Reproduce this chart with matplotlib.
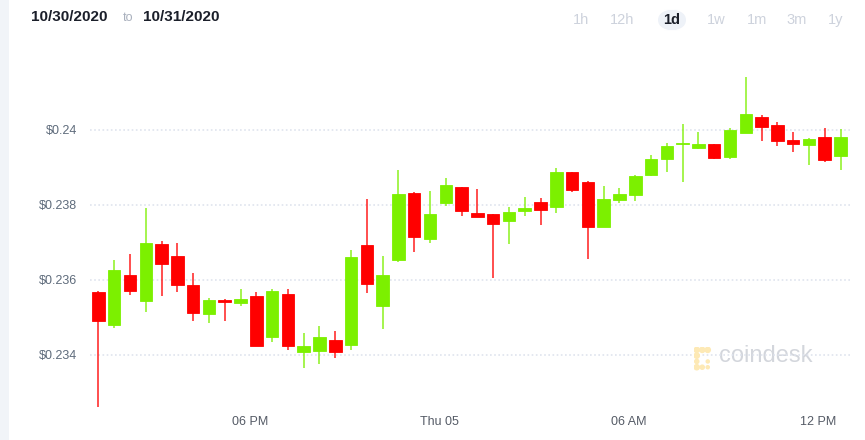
import matplotlib.pyplot as plt
import matplotlib.dates as mdates
from matplotlib.patches import FancyBboxPatch
import pandas as pd

plt.rcParams['font.family'] = ['Liberation Sans', 'DejaVu Sans']

# 30 min candles, 11/04 afternoon -> 11/05 noon
times = pd.date_range('2020-11-04 13:12', periods=48, freq='30min')
opens = [0.235688, 0.234808, 0.236125, 0.235448, 0.236960, 0.236648, 0.235875, 0.235085,
         0.235475, 0.235395, 0.235565, 0.234480, 0.235635, 0.234080, 0.234099, 0.234392,
         0.234267, 0.236933, 0.235315, 0.236541, 0.238320, 0.237085, 0.238045, 0.238472,
         0.237779, 0.237760, 0.237581, 0.237848, 0.238072, 0.237939, 0.238880, 0.238613,
         0.237421, 0.238133, 0.238275, 0.238808, 0.239235, 0.239619, 0.239520, 0.239619,
         0.239280, 0.239928, 0.240339, 0.240125, 0.239741, 0.239608, 0.239805, 0.239307]
closes = [0.234899, 0.236275, 0.235715, 0.236979, 0.236427, 0.235875, 0.235120, 0.235475,
          0.235413, 0.235493, 0.234248, 0.235707, 0.234232, 0.234240, 0.234480, 0.234072,
          0.236613, 0.235901, 0.236133, 0.238293, 0.237139, 0.237760, 0.238541, 0.237827,
          0.237688, 0.237493, 0.237805, 0.237928, 0.237859, 0.238880, 0.238400, 0.237421,
          0.238160, 0.238293, 0.238765, 0.239227, 0.239573, 0.239653, 0.239635, 0.239261,
          0.240000, 0.240427, 0.240088, 0.239715, 0.239627, 0.239752, 0.239200, 0.239813]
highs = [0.235715, 0.236533, 0.236693, 0.237912, 0.237040, 0.236987, 0.236179, 0.235512,
         0.235493, 0.235760, 0.235672, 0.235752, 0.235760, 0.234579, 0.234773, 0.234640,
         0.236800, 0.238152, 0.236632, 0.238933, 0.238355, 0.238365, 0.238720, 0.238488,
         0.238427, 0.237760, 0.237939, 0.238213, 0.238179, 0.238987, 0.238880, 0.238640,
         0.238499, 0.238453, 0.238800, 0.239325, 0.239653, 0.240160, 0.239955, 0.239627,
         0.240053, 0.241421, 0.240400, 0.240205, 0.239947, 0.239787, 0.240053, 0.240019]
lows = [0.232621, 0.234720, 0.235592, 0.235155, 0.235581, 0.235688, 0.234899, 0.234845,
        0.234915, 0.235315, 0.234232, 0.234355, 0.234125, 0.233661, 0.233768, 0.233928,
        0.234133, 0.235661, 0.234693, 0.236488, 0.236755, 0.236995, 0.237981, 0.237715,
        0.237672, 0.236061, 0.236968, 0.237715, 0.237459, 0.237779, 0.238347, 0.236573,
        0.237421, 0.238045, 0.238115, 0.238773, 0.238872, 0.238605, 0.239501, 0.239219,
        0.239235, 0.239912, 0.239715, 0.239581, 0.239421, 0.239067, 0.239139, 0.238933]

ytick_vals = [0.234, 0.236, 0.238, 0.24]
ytick_labels = ['$0.234', '$0.236', '$0.238', '$0.24']
xtick_times = pd.to_datetime(['2020-11-04 18:00', '2020-11-05 00:00', '2020-11-05 06:00', '2020-11-05 12:00'])
xtick_labels = ['06 PM', 'Thu 05', '06 AM', '12 PM']

up_col = '#7cf000'
down_col = '#ff0000'

W, H = 865, 440
fig = plt.figure(figsize=(W / 100, H / 100), dpi=100)
fig.patch.set_facecolor('white')

# light strip on the left edge
strip = fig.add_axes([0, 0, 9 / W, 1])
strip.set_facecolor('#f1f4f8')
strip.set_xticks([]); strip.set_yticks([])
for s in strip.spines.values():
    s.set_visible(False)

ax = fig.add_axes([90 / W, 30 / H, 760 / W, 360 / H])
ax.set_facecolor('white')

x = mdates.date2num(times)
width = 0.396 / 24
for xi, o, c, hi, lo in zip(x, opens, closes, highs, lows):
    col = up_col if c >= o else down_col
    ax.vlines(xi, lo, hi, color=col, linewidth=1.3, alpha=0.75, zorder=2)
    ax.bar(xi, max(abs(c - o), 0.00002), width=width, bottom=min(o, c),
           color=col, edgecolor=col, linewidth=0.6, zorder=3)

for yv in ytick_vals:
    ax.axhline(yv, color='#dfe4ee', linestyle=(0, (1, 1.5)), linewidth=1.2, zorder=1)

ax.set_ylim(0.232533, 0.242133)
ax.set_xlim(mdates.date2num(pd.Timestamp('2020-11-04 12:56')), mdates.date2num(pd.Timestamp('2020-11-05 13:00')))
ax.set_yticks(ytick_vals)
ax.set_yticklabels(ytick_labels)
ax.set_xticks(mdates.date2num(xtick_times))
ax.set_xticklabels(xtick_labels)
ax.tick_params(axis='y', length=0, pad=9, labelsize=9, labelcolor='#5e6b7b')
ax.tick_params(axis='x', length=0, pad=4, labelsize=9, labelcolor='#555b66')
for s in ax.spines.values():
    s.set_visible(False)

# watermark
ax.text(0.828, 0.15, 'coindesk', transform=ax.transAxes, fontsize=17, color='#d3d6dc',
        ha='left', va='center', zorder=0)
logo = fig.add_axes([694 / W, (440 - 373) / H, 22 / W, 26 / H])
logo.set_xlim(0, 4); logo.set_ylim(0, 4.5)
logo.axis('off')
lx = [0.5, 1.5, 2.5, 0.5, 0.5, 0.5, 1.5, 2.5, 2.5]
ly = [4, 4, 4, 3, 2, 1, 1, 1, 2]
logo.scatter(lx, ly, s=[14, 14, 14, 14, 9, 14, 9, 5, 5], color='#fde9b5', zorder=1)

# header
fig.text(31 / W, 1 - 17 / H, '10/30/2020', fontsize=11, fontweight='bold', color='#1b1f2a', va='center')
fig.text(123 / W, 1 - 18 / H, 'to', fontsize=9, color='#a9b0bd', va='center')
fig.text(143 / W, 1 - 17 / H, '10/31/2020', fontsize=11, fontweight='bold', color='#1b1f2a', va='center')

pill = FancyBboxPatch((658 / W, 1 - 31 / H), 28 / W, 22 / H, boxstyle='round,pad=0,rounding_size=0.025',
                      transform=fig.transFigure, facecolor='#eef2f8', edgecolor='none')
fig.patches.append(pill)
ranges = ['1h', '12h', '1d', '1w', '1m', '3m', '1y']
range_x = [581, 622, 672, 716, 757, 797, 836]
for lab, rx in zip(ranges, range_x):
    active = lab == '1d'
    fig.text(rx / W, 1 - 20 / H, lab, fontsize=10.5, ha='center', va='center',
             color='#1b1f2a' if active else '#cdd2dc', fontweight='bold' if active else 'normal')

fig.savefig('out.png', dpi=100)
